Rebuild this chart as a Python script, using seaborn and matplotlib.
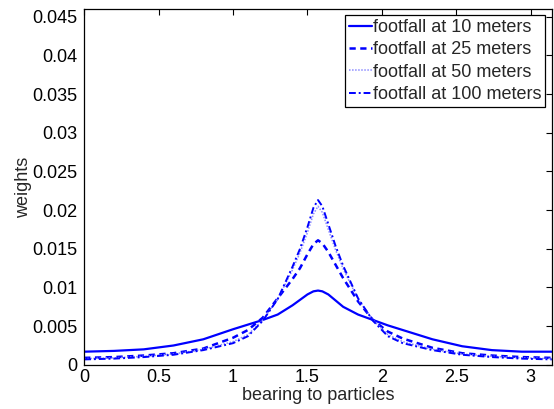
import numpy as np
import pandas as pd
import matplotlib
matplotlib.use("Agg")
import matplotlib.pyplot as plt
import seaborn as sns

bearing = [0.0, 0.2, 0.4, 0.6, 0.8, 1.0, 1.1, 1.2, 1.3, 1.4, 1.45, 1.5, 1.54, 1.571,
           1.6, 1.64, 1.69, 1.74, 1.84, 1.94, 2.04, 2.14, 2.34, 2.54, 2.74, 2.94, 3.1416]

w10 = [0.0017, 0.0018, 0.0020, 0.0025, 0.0033, 0.0046, 0.0052, 0.0058, 0.0065, 0.0077,
       0.0084, 0.0091, 0.0095, 0.0096, 0.0095, 0.0091, 0.0083, 0.0075, 0.0065, 0.0058,
       0.0051, 0.0045, 0.0033, 0.0024, 0.0019, 0.0017, 0.0017]
w25 = [0.0009, 0.0010, 0.0012, 0.0015, 0.0021, 0.0035, 0.0045, 0.0061, 0.0086, 0.0111,
       0.0125, 0.0143, 0.0156, 0.0161, 0.0157, 0.0146, 0.0129, 0.0112, 0.0082, 0.0058,
       0.0043, 0.0034, 0.0022, 0.0015, 0.0012, 0.0010, 0.0009]
w50 = [0.0008, 0.0009, 0.0011, 0.0014, 0.0020, 0.0030, 0.0039, 0.0058, 0.0085, 0.0123,
       0.0145, 0.0171, 0.0195, 0.0205, 0.0197, 0.0175, 0.0148, 0.0124, 0.0085, 0.0058,
       0.0039, 0.0030, 0.0020, 0.0014, 0.0011, 0.0009, 0.0008]
w100 = [0.0007, 0.0008, 0.0010, 0.0013, 0.0019, 0.0028, 0.0037, 0.0057, 0.0085, 0.0127,
        0.0150, 0.0178, 0.0203, 0.0213, 0.0205, 0.0182, 0.0153, 0.0128, 0.0086, 0.0057,
        0.0037, 0.0028, 0.0019, 0.0013, 0.0010, 0.0008, 0.0007]

labels = ["footfall at 10 meters", "footfall at 25 meters",
          "footfall at 50 meters", "footfall at 100 meters"]
series = [w10, w25, w50, w100]

xticks = [0, 0.5, 1, 1.5, 2, 2.5, 3]
xticklabels = ["0", "0.5", "1", "1.5", "2", "2.5", "3"]
yticks = [0, 0.005, 0.01, 0.015, 0.02, 0.025, 0.03, 0.035, 0.04, 0.045]
yticklabels = ["0", "0.005", "0.01", "0.015", "0.02", "0.025", "0.03", "0.035", "0.04", "0.045"]

sns.set_style("white")
plt.rcParams['font.family'] = ['Liberation Sans', 'DejaVu Sans']
plt.rcParams['font.size'] = 13

fig = plt.figure(figsize=(5.54, 4.09), dpi=100)
ax = fig.add_axes([0.152, 0.108, 0.844, 0.870])

styles = [dict(color="#0000ff", linestyle="-", linewidth=1.6),
          dict(color="#0000ff", linestyle=(0, (2.5, 1.8)), linewidth=1.8),
          dict(color="#8c8cff", linestyle=(0, (1, 1)), linewidth=1.1),
          dict(color="#0000ff", linestyle=(0, (3.5, 1.5, 1, 1.5)), linewidth=1.4)]

for lab, vals, st in zip(labels, series, styles):
    sns.lineplot(x=bearing, y=vals, ax=ax, label=lab, **st)

ax.set_xlim(0, np.pi)
ax.set_ylim(0, 0.046)
ax.set_xticks(xticks)
ax.set_xticklabels(xticklabels)
ax.set_yticks(yticks)
ax.set_yticklabels(yticklabels)
ax.tick_params(direction="in", top=True, right=True, length=4, width=0.8,
               labelsize=13, colors="black")
ax.tick_params(axis="x", pad=3)
ax.tick_params(axis="y", pad=5)
for s in ax.spines.values():
    s.set_color("black")
    s.set_linewidth(0.9)
ax.set_xlabel("bearing to particles", fontsize=13, labelpad=0.5)
ax.set_ylabel("weights", fontsize=13, labelpad=0)

leg = ax.legend(loc="upper right", fontsize=13, frameon=True, fancybox=False,
                edgecolor="black", framealpha=1, handlelength=1.25, handletextpad=0.1,
                borderpad=0.2, labelspacing=0.3, borderaxespad=0.35)
leg.get_frame().set_linewidth(0.9)

fig.savefig("out.png", dpi=100)
